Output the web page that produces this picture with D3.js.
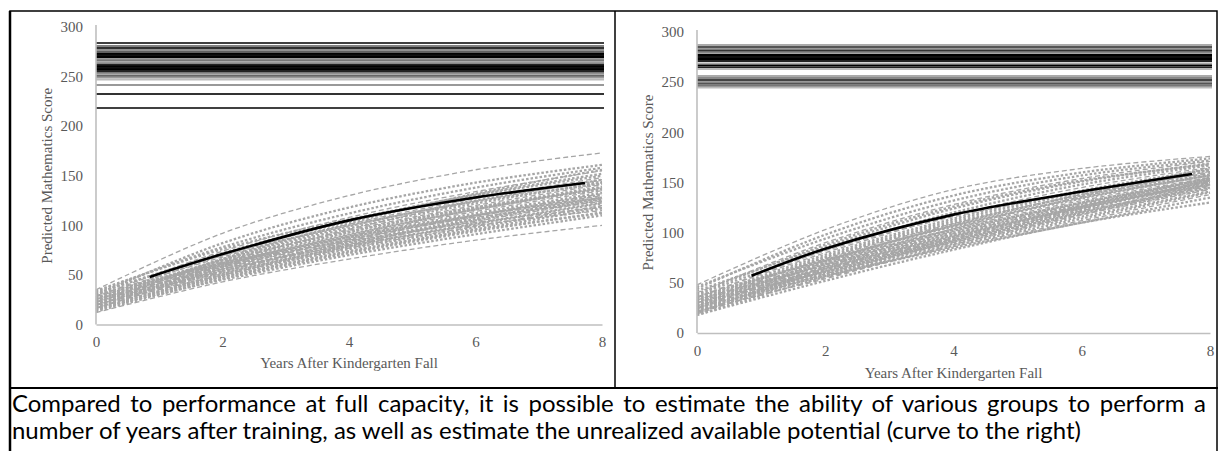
<!DOCTYPE html>
<html lang="en">
<head>
<meta charset="UTF-8" />
<title>Predicted Mathematics Score</title>
<script src="https://d3js.org/d3.v7.min.js"></script>
<style>
  body { margin: 0; background: #fff; }
  svg { display: block; }
  .tick text, .axis-title {
    font-family: 'Liberation Serif', 'Times New Roman', serif;
    fill: #595959;
  }
  .caption {
    font-family: Lato, 'Open Sans', sans-serif;
    font-size: 21px;
    fill: #000;
  }
</style>
</head>
<body>
<div id="chart"></div>
<script>
  // ---- data ----
  const years = [0, 2, 4, 6, 8];
  const yTicks = [0, 50, 100, 150, 200, 250, 300];
  const xTicks = [0, 2, 4, 6, 8];
  const yTitle = "Predicted Mathematics Score";
  const xTitle = "Years After Kindergarten Fall";
  const captionLines = [
    "Compared to performance at full capacity, it is possible to estimate the ability of various groups to perform a",
    "number of years after training, as well as estimate the unrealized available potential (curve to the right)"
  ];

  // full-capacity levels (horizontal lines)
  const leftLevels = [283.8, 280.8, 278.8, 276.8, 274.8, 272.8, 271.3, 269.7, 267.7, 266.2, 264.7, 263.2,
    261.7, 260.2, 258.6, 257.1, 255.6, 253.6, 252.1, 250.6, 249.1, 247.1, 241.5, 232.4, 218.3];
  const rightLevels = [287.1, 285.1, 283.1, 281.2, 279.2, 277.2, 275.2, 273.2, 271.2, 268.7, 266.7, 264.7,
    263.2, 256.2, 254.2, 252.2, 250.2, 248.3, 246.3, 244.8];

  // group curves, score at years 0,2,4,6,8
  const leftGroups = [
    [35, 92, 130, 156, 173], [30, 82, 118, 143, 161], [33, 78, 112, 138, 158], [28, 74, 108, 134, 155],
    [31, 72, 105, 131, 152], [26, 70, 104, 130, 150], [29, 68, 101, 127, 148], [24, 66, 99, 125, 146],
    [27, 65, 97, 122, 143], [22, 63, 95, 120, 141], [25, 62, 93, 118, 139], [20, 60, 91, 116, 137],
    [23, 59, 89, 114, 135], [18, 58, 88, 112, 133], [21, 57, 86, 110, 131], [16, 56, 85, 109, 130],
    [19, 55, 83, 107, 128], [24, 54, 82, 105, 126], [17, 53, 81, 104, 125], [22, 52, 79, 102, 123],
    [15, 51, 78, 101, 122], [20, 50, 77, 99, 120], [14, 49, 76, 98, 119], [18, 48, 74, 96, 117],
    [26, 56, 80, 100, 115], [13, 46, 72, 94, 113], [16, 45, 70, 91, 110], [12, 43, 66, 85, 100],
    [30, 62, 88, 110, 128], [27, 60, 90, 116, 138], [19, 62, 96, 124, 146], [21, 66, 102, 132, 156],
    [32, 70, 100, 124, 142], [25, 58, 86, 108, 124], [17, 50, 80, 106, 127], [23, 64, 94, 118, 136],
    [28, 61, 84, 103, 118], [15, 47, 73, 95, 112], [34, 76, 106, 128, 144], [20, 54, 84, 110, 132]
  ];
  const rightGroups = [
    [48, 103, 143, 164, 176], [44, 98, 137, 160, 174], [46, 94, 132, 157, 172], [40, 90, 128, 154, 171],
    [42, 86, 124, 151, 169], [38, 83, 120, 148, 167], [36, 80, 117, 145, 165], [34, 78, 114, 142, 163],
    [32, 76, 112, 140, 162], [30, 74, 109, 138, 160], [35, 73, 107, 135, 157], [28, 72, 106, 134, 157],
    [33, 70, 104, 132, 155], [26, 69, 102, 130, 153], [31, 68, 100, 128, 152], [24, 66, 99, 127, 150],
    [29, 65, 97, 125, 149], [22, 64, 96, 124, 148], [27, 63, 94, 122, 146], [20, 62, 93, 121, 145],
    [25, 61, 92, 119, 144], [19, 59, 90, 118, 143], [23, 58, 89, 116, 141], [18, 56, 87, 114, 140],
    [21, 55, 86, 112, 138], [26, 57, 85, 110, 135], [18, 52, 83, 110, 130], [30, 64, 95, 124, 151],
    [37, 72, 103, 130, 154], [24, 60, 95, 126, 155], [20, 66, 104, 136, 161], [27, 71, 108, 138, 164],
    [33, 67, 98, 126, 150], [22, 54, 88, 118, 147], [39, 88, 126, 152, 168], [29, 61, 91, 120, 148],
    [25, 68, 101, 129, 154], [21, 58, 92, 123, 152], [31, 75, 110, 137, 158], [35, 82, 116, 140, 159]
  ];

  // overall mean curve
  const leftMeanYears = [0.85, 2, 4, 6, 7.73];
  const leftMeanScores = [48, 71, 105, 128, 142.7];
  const rightMeanYears = [0.85, 2, 4, 6, 7.72];
  const rightMeanScores = [57, 84, 118, 141, 158.5];

  // line shades for the horizontal levels
  const leftShades = ["#404040", "#808080", "#303030", "#909090", "#606060", "#000", "#111", "#000",
    "#999", "#777", "#aaa", "#888", "#222", "#000", "#111", "#000", "#222", "#777", "#aaa", "#666",
    "#999", "#bbb", "#999", "#333", "#404040"];
  const rightShades = ["#aaa", "#555", "#999", "#333", "#888", "#000", "#111", "#000", "#222", "#aaa",
    "#000", "#222", "#bbb", "#aaa", "#888", "#444", "#999", "#555", "#777", "#bbb"];

  const W = 1218, H = 451;
  const svg = d3.select("#chart").append("svg").attr("width", W).attr("height", H);

  function drawPanel(p) {
    const x = d3.scaleLinear().domain([0, 8]).range([p.left, p.right]);
    const y = d3.scaleLinear().domain([0, 300]).range([p.bottom, p.top]);
    const g = svg.append("g");

    // full capacity lines
    g.selectAll("line.level").data(p.levels).enter().append("line")
      .attr("class", "level")
      .attr("x1", x(0)).attr("x2", x(8) + 2)
      .attr("y1", d => y(d)).attr("y2", d => y(d))
      .attr("stroke", (d, i) => p.shades[i])
      .attr("stroke-width", 2);

    // group curves
    const line = d3.line().x(d => x(d[0])).y(d => y(d[1])).curve(d3.curveCatmullRom);
    g.selectAll("path.group").data(p.groups).enter().append("path")
      .attr("class", "group")
      .attr("d", d => line(d.map((v, i) => [years[i], v])))
      .attr("fill", "none")
      .attr("stroke", "#a6a6a6")
      .attr("stroke-width", (d, i) => i % 3 === 0 ? 1.3 : 2.3)
      .attr("stroke-dasharray", (d, i) => i % 3 === 0 ? "5,3" : "2.5,2");

    // mean curve
    g.append("path")
      .attr("d", line(p.meanYears.map((t, i) => [t, p.meanScores[i]])))
      .attr("fill", "none")
      .attr("stroke", "#000")
      .attr("stroke-width", 2.6);

    // axes
    const yAxis = g.append("g").attr("transform", `translate(${x(0)},0)`)
      .call(d3.axisLeft(y).tickValues(yTicks).tickSize(0).tickSizeOuter(0).tickPadding(13));
    const xAxis = g.append("g").attr("transform", `translate(0,${y(0)})`)
      .call(d3.axisBottom(x).tickValues(xTicks).tickSize(0).tickSizeOuter(0).tickPadding(12));
    [yAxis, xAxis].forEach(a => {
      a.select(".domain").attr("stroke", "#bfbfbf").attr("stroke-width", 1.6);
      a.selectAll(".tick text").style("font-size", "15px");
    });
    yAxis.select(".domain").attr("d", `M0,${y(300) - 2}V${y(0)}`);

    g.append("text").attr("class", "axis-title")
      .attr("transform", `translate(${p.yTitleX},${(y(0) + y(300)) / 2}) rotate(-90)`)
      .attr("text-anchor", "middle").attr("dy", "0.35em")
      .style("font-size", "15px").text(yTitle);
    g.append("text").attr("class", "axis-title")
      .attr("x", (x(0) + x(8)) / 2).attr("y", p.xTitleY)
      .attr("text-anchor", "middle").attr("dy", "0.35em")
      .style("font-size", "15px").text(xTitle);
  }

  drawPanel({ left: 96, right: 602, top: 27, bottom: 324.5, yTitleX: 47, xTitleY: 363,
    levels: leftLevels, shades: leftShades, groups: leftGroups,
    meanYears: leftMeanYears, meanScores: leftMeanScores });
  drawPanel({ left: 697, right: 1210, top: 32, bottom: 333, yTitleX: 648, xTitleY: 373,
    levels: rightLevels, shades: rightShades, groups: rightGroups,
    meanYears: rightMeanYears, meanScores: rightMeanScores });

  // table borders
  svg.append("rect").attr("x", 10).attr("y", 11).attr("width", 1207).attr("height", 460)
    .attr("fill", "none").attr("stroke", "#000").attr("stroke-width", 1.5);
  svg.append("line").attr("x1", 10).attr("x2", 10).attr("y1", 11).attr("y2", H)
    .attr("stroke", "#000").attr("stroke-width", 2.5);
  svg.append("line").attr("x1", 615).attr("x2", 615).attr("y1", 11).attr("y2", 388)
    .attr("stroke", "#000").attr("stroke-width", 1.5);
  svg.append("line").attr("x1", 10).attr("x2", W).attr("y1", 388).attr("y2", 388)
    .attr("stroke", "#000").attr("stroke-width", 2);

  // caption: size the font so the second line fills its width, then justify the first line
  const caption = svg.selectAll("text.caption").data(captionLines).enter().append("text")
    .attr("class", "caption")
    .attr("x", 12)
    .attr("y", (d, i) => 412 + i * 27)
    .text(d => d);
  const second = caption.filter((d, i) => i === 1);
  const fs = 21 * 1069 / second.node().getComputedTextLength();
  caption.style("font-size", fs + "px");
  const first = caption.filter((d, i) => i === 0);
  const natural = first.node().getComputedTextLength();
  const spaces = captionLines[0].split(" ").length - 1;
  first.attr("word-spacing", Math.max(0, (1194 - natural) / spaces));
</script>
</body>
</html>
